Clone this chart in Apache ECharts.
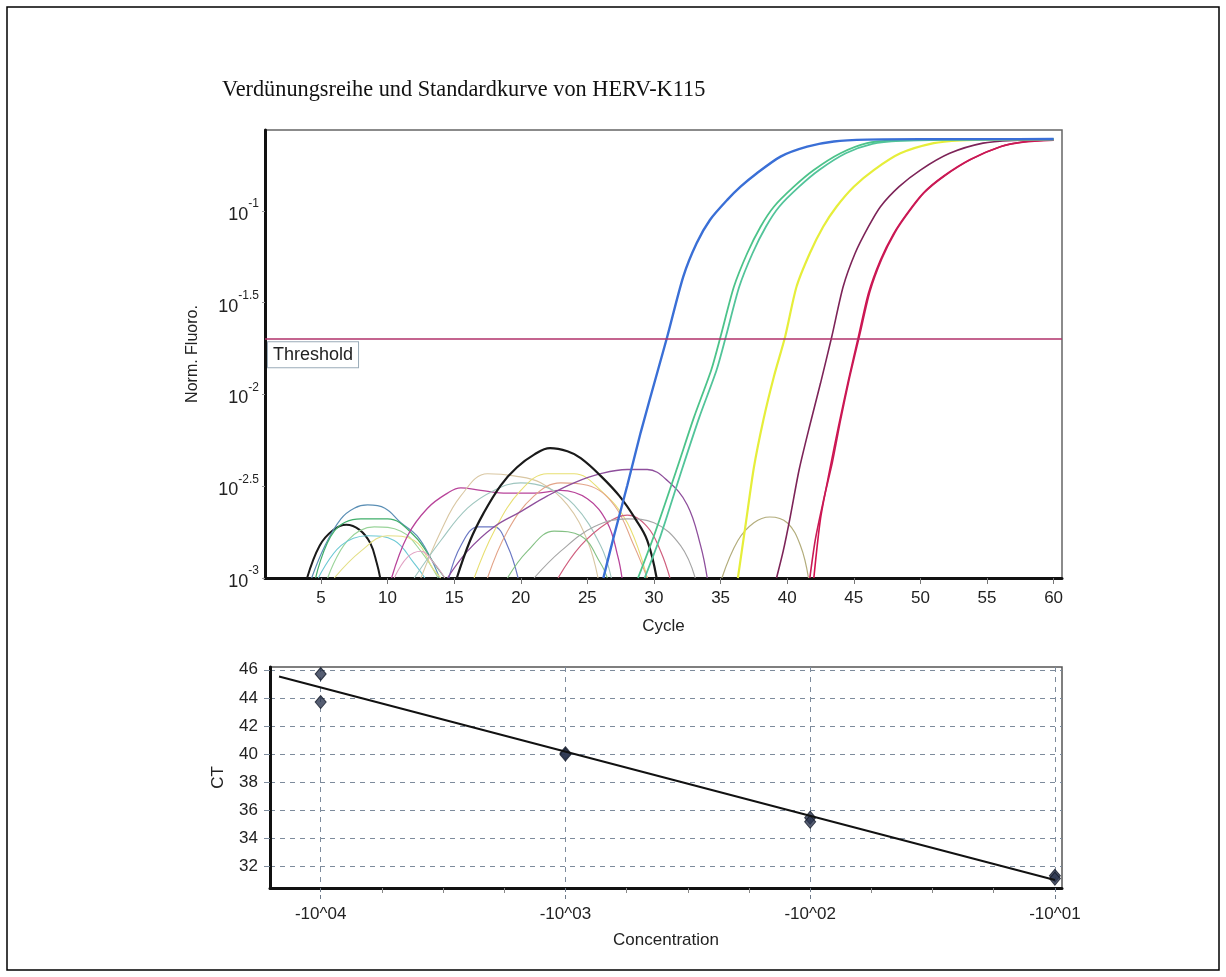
<!DOCTYPE html>
<html>
<head>
<meta charset="utf-8">
<script src="https://cdn.jsdelivr.net/npm/echarts@6/dist/echarts.min.js"></script>
<style>
html,body{margin:0;padding:0;background:#fff;}
#chart{width:1226px;height:977px;}
</style>
</head>
<body>
<div id="chart"></div>
<script>
// ---------- DATA ----------
const chartTitle = 'Verdünungsreihe und Standardkurve von HERV-K115';
const cycleTicks = [5, 10, 15, 20, 25, 30, 35, 40, 45, 50, 55, 60];
const thresholdValue = 0.0202;

// amplification curves [cycle, normalised fluorescence]
const blueCurve = [[26.2,0.001],[27,0.0017],[28,0.0032],[29,0.0062],[30.3,0.0136],[31,0.0207],[32.2,0.0439],[33.2,0.0667],[34.2,0.0893],[35.5,0.1148],[36.5,0.1355],[37.7,0.16],[39.5,0.1977],[41.5,0.2239],[43.5,0.2388],[46,0.2445],[50,0.246],[55,0.246],[60,0.2465]];
const greenCurveA = [[28.8,0.001],[30,0.0017],[31.7,0.0039],[33,0.0075],[34.3,0.0136],[35,0.0207],[36,0.0386],[37,0.0588],[38,0.082],[39,0.1054],[40.5,0.1355],[42,0.167],[44,0.206],[46,0.234],[48,0.242],[52,0.245],[60,0.246]];
const greenCurveB = [[29.3,0.001],[30.5,0.0017],[32.1,0.0039],[33.4,0.0075],[34.7,0.0136],[35.4,0.0207],[36.4,0.0386],[37.4,0.0588],[38.4,0.082],[39.4,0.1054],[40.9,0.1355],[42.4,0.167],[44.4,0.206],[46.4,0.232],[48.5,0.241],[52,0.244],[60,0.245]];
const yellowCurve = [[36.3,0.001],[36.9,0.002],[37.5,0.004],[38.2,0.0072],[39,0.0125],[39.85,0.0207],[40.7,0.0386],[41.7,0.0588],[42.7,0.082],[43.7,0.1054],[45,0.1355],[46.5,0.167],[48.5,0.206],[51,0.234],[53,0.242],[56,0.245],[60,0.246]];
const maroonCurve = [[39.2,0.001],[39.7,0.0014],[40.2,0.0021],[40.9,0.0039],[41.7,0.0068],[42.5,0.0115],[43.35,0.0207],[44.2,0.0386],[45.1,0.0588],[46.1,0.082],[47,0.1054],[48.4,0.1355],[50,0.167],[52.2,0.206],[54.7,0.234],[57,0.242],[60,0.245]];
const redCurveA = [[42.0,0.001],[42.5,0.0021],[43.2,0.0039],[43.85,0.0067],[44.6,0.012],[45.35,0.0207],[46.1,0.0356],[47,0.054],[48,0.0755],[49,0.097],[50.2,0.1248],[51.7,0.154],[53.7,0.19],[56,0.224],[57.7,0.237],[60,0.243]];
const redCurveB = [[41.7,0.001],[42.1,0.0016],[42.7,0.0026],[43.4,0.0043],[44.0,0.0072],[44.7,0.0125],[45.45,0.0212],[46.2,0.0362],[47.1,0.0548],[48.1,0.0765],[49.1,0.098],[50.3,0.126],[51.8,0.155],[53.8,0.191],[56.1,0.225],[57.8,0.238],[60,0.244]];

// background (non-amplifying) traces
const noise01 = [[3.96,0.001],[4.9,0.0015],[5.9,0.00182],[6.9,0.00195],[7.9,0.00183],[8.7,0.00155],[9.2,0.0012],[9.45,0.001]];
const noise02 = [[4.3,0.001],[5.3,0.0015],[6.5,0.0021],[7.5,0.0024],[8.5,0.0025],[9.8,0.0024],[11,0.002],[12.2,0.0017],[13.2,0.0013],[13.9,0.001]];
const noise03 = [[4.6,0.001],[6,0.0018],[8,0.0021],[10,0.0021],[12,0.0017],[13.5,0.0012],[14.3,0.001]];
const noise04 = [[5.5,0.001],[7,0.0016],[9,0.0019],[11,0.0018],[12.5,0.0014],[13.8,0.001]];
const noise05 = [[4.8,0.001],[6.5,0.0015],[8.5,0.0017],[10.5,0.0016],[12,0.0012],[12.8,0.001]];
const noise06 = [[6,0.001],[8,0.0014],[10,0.0017],[12,0.0016],[13.5,0.0011],[14,0.001]];
const noise07 = [[10.3,0.001],[11.5,0.0017],[13,0.0024],[14.5,0.0029],[15.5,0.0031],[17,0.003],[19,0.0029],[21,0.0029],[23,0.003],[25,0.0027],[26.5,0.002],[27.3,0.0013],[27.6,0.001]];
const noise08 = [[14.6,0.001],[15.5,0.0015],[16.8,0.0019],[18,0.0019],[19,0.0015],[19.8,0.001]];
const noise09 = [[12.5,0.001],[14,0.0018],[15.5,0.0028],[17.5,0.0037],[19.5,0.0036],[21.5,0.0033],[23.5,0.0025],[25,0.0016],[25.8,0.001]];
const noise10 = [[12,0.001],[14,0.0016],[16,0.0024],[18,0.003],[20,0.0033],[22,0.0031],[24,0.0025],[26,0.0015],[26.8,0.001]];
const noise11 = [[16.5,0.001],[18,0.0018],[20,0.003],[22,0.0037],[24,0.0037],[26,0.003],[28,0.002],[29.5,0.001]];
const noise12 = [[17.5,0.001],[19,0.0018],[21,0.0028],[23,0.0033],[25,0.0032],[27,0.0025],[28.5,0.0015],[29.5,0.001]];
const noise13 = [[14.5,0.001],[16,0.0014],[18,0.0019],[20,0.0023],[22,0.0028],[24,0.0033],[26,0.0037],[28,0.0039],[29.5,0.0039],[31,0.0034],[32.5,0.0025],[33.5,0.0015],[34,0.001]];
const noise14 = [[22.8,0.001],[24.5,0.0015],[26.5,0.002],[28,0.0022],[29.5,0.0019],[30.5,0.0014],[31.2,0.001]];
const noise15 = [[21,0.001],[23,0.0014],[25.5,0.0019],[28,0.0021],[30,0.002],[32,0.0015],[33.1,0.001]];
const noise16 = [[35.1,0.001],[36.3,0.0016],[37.5,0.002],[38.7,0.00215],[40,0.002],[41,0.0015],[41.6,0.001]];
const noise17 = [[10.5,0.001],[11.5,0.0013],[12.5,0.0014],[13.5,0.0012],[14.3,0.001]];
const noise18 = [[19,0.001],[20.5,0.0014],[22.5,0.0018],[24.5,0.0017],[26,0.0012],[26.5,0.001]];
const noise19 = [[15.2,0.001],[16.2,0.0016],[17.2,0.00225],[18.5,0.0032],[19.7,0.004],[21,0.0047],[22.2,0.0051],[23.5,0.0049],[24.5,0.0045],[26,0.0036],[27.4,0.0028],[28.6,0.0021],[29.5,0.0016],[30.2,0.001]];

// standard curve
const concMajorTicks = [1, 2, 3, 4];
const concMinorTicks = [1.25, 1.5, 1.75, 2.25, 2.5, 2.75, 3.25, 3.5, 3.75];
const ctTicks = [32, 34, 36, 38, 40, 42, 44, 46];
const concExponent = [4, 4, 3, 3, 2, 2, 1, 1];
const ctValues = [45.7, 43.7, 40.05, 39.95, 35.45, 35.15, 31.3, 31.1];
const fitLine = [[4.17, 45.52], [1.0, 31.0]];

// ---------- STYLE ----------
const FONT = 'Liberation Sans, Arial, sans-serif';
const noiseList = [noise01,noise02,noise03,noise04,noise05,noise06,noise07,noise08,noise09,noise10,noise11,noise12,noise13,noise14,noise15,noise16,noise17,noise18,noise19];
const noiseColors = ['#1a1a1a','#5b8fb5','#3fae6a','#9ad49a','#6cc9d4','#e3df86','#b8449a','#6b78c4','#d9c7a3','#9fc6bf','#e8df72','#e3a489','#8e4f9c','#d0607f','#a6a6a6','#b3ad7c','#e2a3c4','#84c184','#1a1a1a'];
const noiseWidths = [2,1.2,1.2,1.1,1.1,1.1,1.3,1.2,1.1,1.1,1.1,1.1,1.3,1.2,1.1,1.2,1.1,1.1,2.2];

const series = [];
noiseList.forEach((d, i) => {
  series.push({
    type: 'line', xAxisIndex: 0, yAxisIndex: 0, data: d, showSymbol: false,
    smooth: 0.4, silent: true, clip: true,
    lineStyle: { color: noiseColors[i], width: noiseWidths[i] }
  });
});
const amp = [
  [maroonCurve, '#7d2458', 1.6],
  [redCurveA, '#d21250', 1.6],
  [redCurveB, '#c81a55', 1.6],
  [yellowCurve, '#e6ee3a', 2.2],
  [greenCurveA, '#4cc38a', 1.8],
  [greenCurveB, '#52c49a', 1.8],
  [blueCurve, '#3a6fd6', 2.4]
];
amp.forEach((a, i) => {
  const s = {
    type: 'line', xAxisIndex: 0, yAxisIndex: 0, data: a[0], showSymbol: false,
    smooth: 0.25, silent: true, clip: true,
    lineStyle: { color: a[1], width: a[2] }
  };
  if (i === amp.length - 1) {
    s.markLine = {
      symbol: 'none', silent: true, animation: false,
      data: [{ yAxis: thresholdValue }],
      lineStyle: { color: '#b0306a', width: 1.6, type: 'solid' },
      label: {
        show: true, position: 'insideStartBottom', formatter: 'Threshold',
        distance: [3, 3], fontFamily: FONT, fontSize: 18, color: '#222',
        backgroundColor: '#fff', borderColor: '#9aabb8', borderWidth: 1,
        padding: [4, 5, 3, 5]
      }
    };
  }
  series.push(s);
});
series.push({
  type: 'line', xAxisIndex: 1, yAxisIndex: 1, data: fitLine, showSymbol: false,
  silent: true, lineStyle: { color: '#111', width: 2 }
});
series.push({
  type: 'scatter', xAxisIndex: 1, yAxisIndex: 1,
  data: concExponent.map((c, i) => [c, ctValues[i]]),
  symbol: 'diamond', symbolSize: [11, 13],
  itemStyle: { color: '#2c3650', borderColor: '#141a28', borderWidth: 1 }
});

const labelStyle = { fontFamily: FONT, fontSize: 17, color: '#222' };
const nameStyle = { fontFamily: FONT, fontSize: 17, color: '#222' };

const option = {
  animation: false,
  backgroundColor: '#fff',
  title: {
    text: chartTitle, left: 222, top: 79, padding: 0,
    textStyle: { fontFamily: 'Liberation Serif, Times New Roman, serif', fontSize: 22.3, fontWeight: 'normal', color: '#111' }
  },
  graphic: [{
    type: 'rect', shape: { x: 7, y: 7, width: 1212, height: 963 },
    style: { fill: 'none', stroke: '#000', lineWidth: 1.5 }, silent: true, z: 100
  }],
  grid: [
    { left: 265, top: 130, width: 797, height: 448, show: true, borderColor: '#666', borderWidth: 1.5, backgroundColor: '#fff' },
    { left: 270, top: 667, width: 792, height: 221, show: true, borderColor: '#555', borderWidth: 1.5, backgroundColor: '#fff' }
  ],
  xAxis: [
    {
      gridIndex: 0, type: 'value', min: 0.8, max: 60.63, position: 'bottom',
      name: 'Cycle', nameLocation: 'middle', nameGap: 40, nameMoveOverlap: false,
      nameTextStyle: nameStyle,
      axisLine: { onZero: false, lineStyle: { color: '#111', width: 3 } },
      axisTick: { show: true, customValues: cycleTicks, length: 6, lineStyle: { color: '#777', width: 1 } },
      axisLabel: Object.assign({ customValues: cycleTicks, margin: 12 }, labelStyle),
      splitLine: { show: false }
    },
    {
      gridIndex: 1, type: 'value', inverse: true, min: 0.971, max: 4.207, position: 'bottom',
      name: 'Concentration', nameLocation: 'middle', nameGap: 44, nameMoveOverlap: false,
      nameTextStyle: nameStyle,
      axisLine: { onZero: false, lineStyle: { color: '#111', width: 3 } },
      axisTick: { show: true, customValues: concMajorTicks, length: 12, lineStyle: { color: '#6d7a8a', width: 1, type: [4, 3] } },
      axisLabel: Object.assign({ customValues: concMajorTicks, margin: 18, formatter: v => '-10^0' + v }, labelStyle),
      splitLine: { show: true, lineStyle: { color: '#7d8b9c', width: 1, type: [5, 5] } }
    },
    {
      gridIndex: 1, type: 'value', inverse: true, min: 0.971, max: 4.207, position: 'bottom',
      axisLine: { show: false, onZero: false },
      axisTick: { show: true, customValues: concMinorTicks, length: 5, lineStyle: { color: '#888', width: 1 } },
      axisLabel: { show: false },
      splitLine: { show: false }
    }
  ],
  yAxis: [
    {
      gridIndex: 0, type: 'log', logBase: 10, min: 0.001, max: 0.276, interval: 0.5,
      name: 'Norm. Fluoro.', nameLocation: 'middle', nameGap: 64, nameMoveOverlap: false,
      nameTextStyle: { fontFamily: FONT, fontSize: 16, color: '#222' },
      axisLine: { onZero: false, lineStyle: { color: '#111', width: 3 } },
      axisTick: { show: true, length: 3, lineStyle: { color: '#999' } },
      axisLabel: {
        margin: 6, showMaxLabel: false,
        formatter: v => {
          const e = Math.round(Math.log10(v) * 10) / 10;
          if (Math.abs(e * 2 - Math.round(e * 2)) > 0.01) return '';
          return '{b|10}{s|' + e + '}';
        },
        rich: {
          b: { fontFamily: FONT, fontSize: 18, color: '#222', lineHeight: 26, verticalAlign: 'bottom' },
          s: { fontFamily: FONT, fontSize: 12, color: '#222', lineHeight: 13, verticalAlign: 'top' }
        }
      },
      splitLine: { show: false }
    },
    {
      gridIndex: 1, type: 'value', min: 30.43, max: 46.2,
      name: 'CT', nameLocation: 'middle', nameGap: 43, nameMoveOverlap: false,
      nameTextStyle: nameStyle,
      axisLine: { onZero: false, lineStyle: { color: '#111', width: 3 } },
      axisTick: { show: true, customValues: ctTicks, length: 6, lineStyle: { color: '#7d8b9c', width: 1 } },
      axisLabel: Object.assign({ customValues: ctTicks, margin: 12 }, labelStyle),
      splitLine: { show: true, lineStyle: { color: '#7d8b9c', width: 1, type: [5, 5] } }
    }
  ],
  series: series
};

const chart = echarts.init(document.getElementById('chart'), null, { renderer: 'canvas' });
chart.setOption(option);
</script>
</body>
</html>
